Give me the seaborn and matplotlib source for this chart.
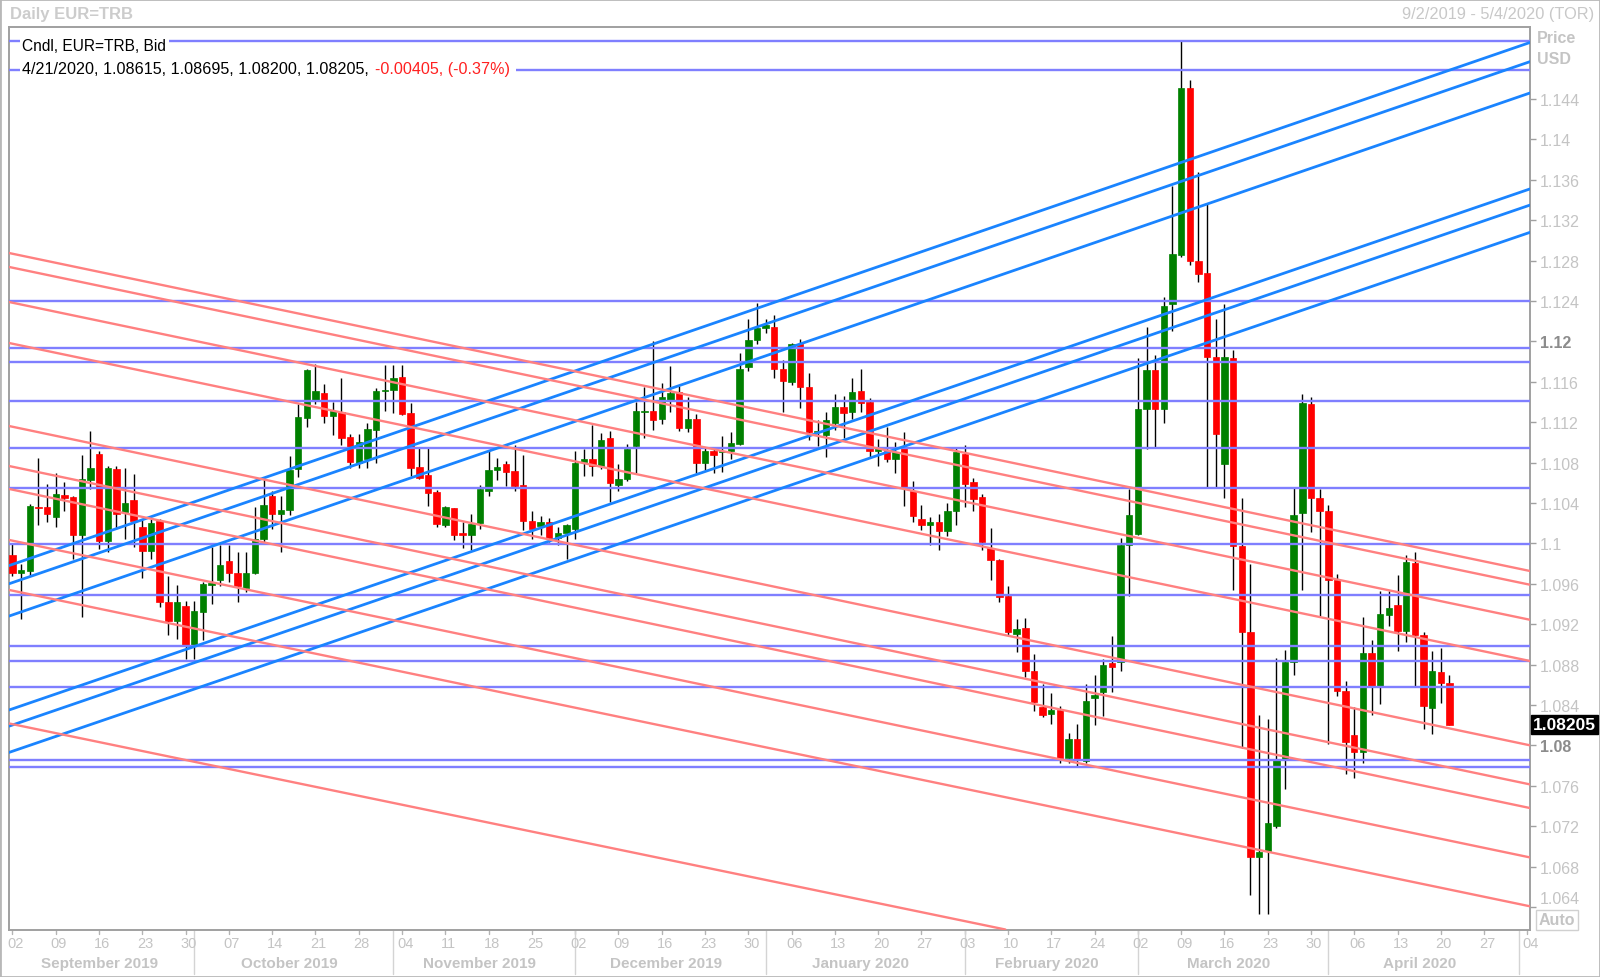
import numpy as np
import pandas as pd
import matplotlib
matplotlib.use("Agg")
import matplotlib.pyplot as plt
import matplotlib.transforms as mtransforms
from matplotlib.patches import Rectangle
import seaborn as sns

# Axe des jours ouvrés (2 sept. 2019 -> 4 mai 2020)
days = pd.bdate_range("2019-09-02", "2020-05-04")

# Bougies EUR=TRB
opens = [1.0989, 1.0971, 1.0973, 1.1036, 1.1036, 1.1026, 1.1048, 1.1046, 1.1008, 1.1063,
         1.1089, 1.1002, 1.1074, 1.1031, 1.1043, 1.1016, 1.0992, 1.1022, 1.0942, 1.0923,
         1.0938, 1.0899, 1.0932, 1.0959, 1.0964, 1.0983, 1.0971, 1.0956, 1.0971, 1.1004,
         1.1047, 1.1029, 1.1033, 1.1074, 1.1124, 1.1142, 1.1149, 1.1126, 1.1130, 1.1105,
         1.1080, 1.1084, 1.1112, 1.1151, 1.1152, 1.1165, 1.1129, 1.1076, 1.1068, 1.1051,
         1.1018, 1.1035, 1.1010, 1.1008, 1.1020, 1.1052, 1.1073, 1.1079, 1.1072, 1.1058,
         1.1022, 1.1017, 1.1021, 1.1005, 1.1010, 1.1014, 1.1081, 1.1084, 1.1077, 1.1104,
         1.1058, 1.1064, 1.1096, 1.1130, 1.1131, 1.1123, 1.1141, 1.1150, 1.1114, 1.1123,
         1.1080, 1.1091, 1.1090, 1.1091, 1.1098, 1.1175, 1.1201, 1.1213, 1.1214, 1.1173,
         1.1160, 1.1197, 1.1155, 1.1110, 1.1107, 1.1119, 1.1135, 1.1130, 1.1151, 1.1140,
         1.1091, 1.1091, 1.1084, 1.1094, 1.1052, 1.1024, 1.1018, 1.1021, 1.1012, 1.1032,
         1.1089, 1.1061, 1.1046, 1.0995, 1.0984, 1.0948, 1.0910, 1.0916, 1.0874, 1.0838,
         1.0831, 1.0835, 1.0788, 1.0806, 1.0785, 1.0847, 1.0853, 1.0882, 1.0883, 1.0998,
         1.1009, 1.1133, 1.1172, 1.1133, 1.1237, 1.1286, 1.1451, 1.1280, 1.1268, 1.1185,
         1.1079, 1.1184, 1.0997, 1.0912, 1.0689, 1.0695, 1.0720, 1.0787, 1.0883, 1.1030,
         1.1138, 1.1045, 1.1032, 1.0964, 1.0854, 1.0810, 1.0793, 1.0891, 1.0859, 1.0929,
         1.0939, 1.0913, 1.0981, 1.0909, 1.0837, 1.0873, 1.08615]
highs = [1.0999, 1.0980, 1.1039, 1.1085, 1.1059, 1.1070, 1.1061, 1.1047, 1.1088, 1.1111,
         1.1091, 1.1077, 1.1077, 1.1075, 1.1069, 1.1024, 1.1024, 1.1024, 1.0968, 1.0959,
         1.0943, 1.0943, 1.0962, 1.0996, 1.0998, 1.0998, 1.0991, 1.0991, 1.1036, 1.1064,
         1.1052, 1.1047, 1.1087, 1.1138, 1.1173, 1.1178, 1.1158, 1.1140, 1.1164, 1.1108,
         1.1108, 1.1119, 1.1154, 1.1177, 1.1177, 1.1177, 1.1139, 1.1094, 1.1094, 1.1053,
         1.1037, 1.1035, 1.1021, 1.1029, 1.1058, 1.1091, 1.1085, 1.1082, 1.1097, 1.1088,
         1.1032, 1.1027, 1.1025, 1.1016, 1.1019, 1.1091, 1.1093, 1.1117, 1.1109, 1.1111,
         1.1079, 1.1098, 1.1140, 1.1155, 1.1200, 1.1159, 1.1176, 1.1156, 1.1145, 1.1128,
         1.1094, 1.1094, 1.1106, 1.1110, 1.1189, 1.1222, 1.1238, 1.1222, 1.1226, 1.1182,
         1.1198, 1.1202, 1.1169, 1.1122, 1.1130, 1.1148, 1.1146, 1.1164, 1.1173, 1.1144,
         1.1103, 1.1115, 1.1100, 1.1110, 1.1062, 1.1038, 1.1026, 1.1029, 1.1040, 1.1095,
         1.1097, 1.1065, 1.1049, 1.1015, 1.0985, 1.0958, 1.0925, 1.0926, 1.0890, 1.0861,
         1.0852, 1.0839, 1.0812, 1.0821, 1.0861, 1.0870, 1.0886, 1.0908, 1.1005, 1.1054,
         1.1184, 1.1214, 1.1187, 1.1244, 1.1354, 1.1497, 1.1459, 1.1368, 1.1337, 1.1222,
         1.1237, 1.1191, 1.1045, 1.0980, 1.0830, 1.0826, 1.0887, 1.0894, 1.1056, 1.1148,
         1.1145, 1.1054, 1.1038, 1.0970, 1.0864, 1.0838, 1.0927, 1.0904, 1.0953, 1.0953,
         1.0969, 1.0989, 1.0991, 1.0912, 1.0893, 1.0896, 1.08695]
lows = [1.0968, 1.0925, 1.0968, 1.1018, 1.1021, 1.1016, 1.1032, 1.0985, 1.0927, 1.1054,
        1.0994, 1.0991, 1.1014, 1.1004, 1.0996, 1.0966, 1.0985, 1.0937, 1.0909, 1.0905,
        1.0886, 1.0886, 1.0904, 1.0940, 1.0958, 1.0962, 1.0942, 1.0952, 1.0970, 1.1001,
        1.1014, 1.0991, 1.1028, 1.1066, 1.1115, 1.1138, 1.1119, 1.1107, 1.1097, 1.1075,
        1.1075, 1.1075, 1.1080, 1.1131, 1.1129, 1.1127, 1.1067, 1.1064, 1.1037, 1.1016,
        1.1016, 1.1003, 1.0995, 1.0993, 1.1014, 1.1047, 1.1063, 1.1057, 1.1052, 1.1013,
        1.1004, 1.1008, 1.1001, 1.0998, 1.0985, 1.1004, 1.1067, 1.1067, 1.1074, 1.1041,
        1.1052, 1.1062, 1.1070, 1.1104, 1.1112, 1.1118, 1.1130, 1.1111, 1.1110, 1.1070,
        1.1073, 1.1070, 1.1071, 1.1084, 1.1097, 1.1171, 1.1197, 1.1208, 1.1164, 1.1130,
        1.1157, 1.1134, 1.1102, 1.1096, 1.1086, 1.1112, 1.1104, 1.1123, 1.1130, 1.1086,
        1.1077, 1.1081, 1.1070, 1.1037, 1.1021, 1.1013, 1.0998, 1.0993, 1.1007, 1.1018,
        1.1036, 1.1032, 1.0993, 1.0964, 1.0942, 1.0909, 1.0892, 1.0868, 1.0834, 1.0828,
        1.0821, 1.0783, 1.0783, 1.0779, 1.0783, 1.0820, 1.0829, 1.0853, 1.0874, 1.0948,
        1.1008, 1.1093, 1.1095, 1.1119, 1.1210, 1.1284, 1.1276, 1.1259, 1.1055, 1.1056,
        1.1045, 1.0954, 1.0797, 1.0652, 1.0633, 1.0633, 1.0718, 1.0757, 1.0870, 1.0954,
        1.1011, 1.0928, 1.0801, 1.0849, 1.0772, 1.0768, 1.0783, 1.0830, 1.0841, 1.0918,
        1.0893, 1.0902, 1.0859, 1.0816, 1.0811, 1.0842, 1.08200]
closes = [1.0971, 1.0974, 1.1037, 1.1035, 1.1029, 1.1049, 1.1045, 1.1008, 1.1064, 1.1075,
          1.1002, 1.1075, 1.1029, 1.1040, 1.1022, 1.0992, 1.1020, 1.0942, 1.0923, 1.0942,
          1.0899, 1.0933, 1.0960, 1.0961, 1.0979, 1.0971, 1.0958, 1.0971, 1.1004, 1.1038,
          1.1029, 1.1033, 1.1073, 1.1125, 1.1172, 1.1151, 1.1126, 1.1131, 1.1104, 1.1081,
          1.1100, 1.1113, 1.1151, 1.1152, 1.1164, 1.1128, 1.1075, 1.1065, 1.1050, 1.1019,
          1.1036, 1.1008, 1.1008, 1.1019, 1.1054, 1.1073, 1.1076, 1.1071, 1.1057, 1.1022,
          1.1014, 1.1021, 1.1005, 1.1010, 1.1018, 1.1080, 1.1084, 1.1077, 1.1102, 1.1060,
          1.1064, 1.1093, 1.1131, 1.1131, 1.1122, 1.1145, 1.1149, 1.1114, 1.1123, 1.1080,
          1.1091, 1.1088, 1.1091, 1.1099, 1.1173, 1.1201, 1.1213, 1.1216, 1.1173, 1.1161,
          1.1197, 1.1155, 1.1110, 1.1111, 1.1122, 1.1135, 1.1129, 1.1150, 1.1139, 1.1091,
          1.1094, 1.1084, 1.1090, 1.1056, 1.1027, 1.1018, 1.1021, 1.1012, 1.1032, 1.1090,
          1.1059, 1.1044, 1.1001, 1.0984, 1.0947, 1.0912, 1.0915, 1.0874, 1.0843, 1.0830,
          1.0835, 1.0788, 1.0806, 1.0787, 1.0844, 1.0850, 1.0880, 1.0878, 1.0998, 1.1028,
          1.1133, 1.1172, 1.1133, 1.1235, 1.1287, 1.1451, 1.1280, 1.1267, 1.1185, 1.1108,
          1.1185, 1.0997, 1.0912, 1.0689, 1.0694, 1.0723, 1.0786, 1.0883, 1.1028, 1.1139,
          1.1045, 1.1032, 1.0964, 1.0854, 1.0803, 1.0793, 1.0891, 1.0859, 1.0930, 1.0936,
          1.0913, 1.0982, 1.0909, 1.0839, 1.0874, 1.0862, 1.08205]

# Variation du dernier jour affichée dans la légende
last_change = "-0.00405, (-0.37%)"

# Niveaux horizontaux tracés sur le graphique
h_levels = [1.1497, 1.1469, 1.1240, 1.1193, 1.1180, 1.1141, 1.1094, 1.1055,
            1.0999, 1.0949, 1.0898, 1.0884, 1.0858, 1.0786, 1.0779]

# Lignes de tendance : prix au 2 sept. 2019 et au 4 mai 2020
line_dates = ["2019-09-02", "2020-05-04"]
up_start = [1.09792, 1.09612, 1.09292, 1.08362, 1.08202, 1.07942]
up_end = [1.14951, 1.14761, 1.14451, 1.13501, 1.13341, 1.13071]
down_start = [1.12868, 1.12730, 1.12383, 1.11977, 1.11155,
              1.10759, 1.10532, 1.10027, 1.09532, 1.08210]
down_end = [1.09732, 1.09596, 1.09249, 1.08841, 1.08006,
            1.07619, 1.07385, 1.06896, 1.06412, 1.05108]

y_ticks = [1.064, 1.068, 1.072, 1.076, 1.08, 1.084, 1.088, 1.092, 1.096, 1.1, 1.104,
           1.108, 1.112, 1.116, 1.12, 1.124, 1.128, 1.132, 1.136, 1.14, 1.144]

sns.set_theme(style="white")
plt.rcParams['font.family'] = ['Liberation Sans', 'DejaVu Sans']

W, H = 1600, 978
fig = plt.figure(figsize=(W / 100, H / 100), dpi=100)
ax = fig.add_axes([9 / W, 1 - 930.5 / H, 1521 / W, 902.5 / H])
ax.set_facecolor("white")

# Bougies
o, hi, lo, c = map(np.array, (opens, highs, lows, closes))
x = np.arange(len(o))
up = c >= o
col = np.where(up, "#008000", "#ff0000")
ax.vlines(x, lo, hi, color="black", lw=1, zorder=3)
ax.bar(x, np.maximum(np.abs(c - o), 0.00012), bottom=np.minimum(o, c), width=0.74,
       color=col, edgecolor=col, lw=0.5, zorder=4)

# Niveaux et tendances
for v in h_levels:
    ax.axhline(v, color="#7f7fff", lw=1.7, zorder=5)
x0, x1 = [days.get_loc(pd.Timestamp(d)) for d in line_dates]
for s, e in zip(up_start, up_end):
    ax.axline((x0, s), (x1, e), color="#1a84ff", lw=2.0, zorder=5)
for s, e in zip(down_start, down_end):
    ax.axline((x0, s), (x1, e), color="#ff8080", lw=1.7, zorder=5)

ax.set_xlim(-0.404, 175.3)
ax.set_ylim(1.06177, 1.15113)

# Axe des prix à droite
ax.yaxis.tick_right()
ax.set_yticks(y_ticks)
ax.set_yticklabels([f"{v:.3f}".rstrip("0") for v in y_ticks])
ax.tick_params(axis="y", direction="out", length=4, width=1, color="#a0a0a0",
               pad=3, labelsize=11.5, labelcolor="#c4c4c4")
for lab, v in zip(ax.get_yticklabels(), y_ticks):
    if abs(v - 1.12) < 1e-9 or abs(v - 1.08) < 1e-9:
        lab.set_fontweight("bold")
        lab.set_color("#8c8c8c")
    if abs(v - 1.064) < 1e-9:
        # remonté pour laisser la place au bouton "Auto"
        lab.set_transform(lab.get_transform() +
                          mtransforms.ScaledTranslation(0, 7 / 72, fig.dpi_scale_trans))
ax.set_xticks([])
for sp in ax.spines.values():
    sp.set_color("#a0a0a0")
    sp.set_linewidth(1.4)

# Axe des dates
tx = mtransforms.blended_transform_factory(ax.transData, fig.transFigure)
for i, d in enumerate(days):
    if d.weekday() == 0:
        ax.text(i + 0.35, 1 - 944 / H, f"{d.day:02d}", transform=tx, ha="center",
                va="center", fontsize=10.5, color="#c4c4c4", clip_on=False)
        ax.plot([i, i], [1 - 931 / H, 1 - 935 / H], transform=tx, color="#b4b4b4",
                lw=1, clip_on=False)
months = days.to_period("M")
for m in months.unique():
    idx = np.where(months == m)[0]
    if idx[0] > 0:
        ax.plot([idx[0], idx[0]], [1 - 931 / H, 1 - 975 / H], transform=tx,
                color="#d4d4d4", lw=1, clip_on=False)
    if len(idx) > 5:
        ax.text((idx[0] + idx[-1]) / 2, 1 - 964 / H, m.strftime("%B %Y"), transform=tx,
                ha="center", va="center", fontsize=11, fontweight="bold",
                color="#c4c4c4", clip_on=False)

# En-têtes
fig.text(10 / W, 1 - 15 / H, "Daily EUR=TRB", ha="left", va="center", fontsize=12,
         fontweight="bold", color="#cccccc")
fig.text(1594 / W, 1 - 15 / H, "9/2/2019 - 5/4/2020 (TOR)", ha="right", va="center",
         fontsize=11.8, color="#c8c8c8")
fig.text(1537 / W, 1 - 38.5 / H, "Price", ha="left", va="center", fontsize=11.5,
         fontweight="bold", color="#c4c4c4")
fig.text(1537 / W, 1 - 60 / H, "USD", ha="left", va="center", fontsize=11.5,
         fontweight="bold", color="#c4c4c4")
fig.text(1557 / W, 1 - 921 / H, "Auto", ha="center", va="center", fontsize=11.5,
         fontweight="bold", color="#c4c4c4",
         bbox=dict(boxstyle="square,pad=0.15", fc="white", ec="#d0d0d0", lw=1))

# Dernier cours
ty = mtransforms.blended_transform_factory(fig.transFigure, ax.transData)
fig.text(1564.5 / W, closes[-1], f"{closes[-1]:.5f}", transform=ty, ha="center",
         va="center", fontsize=12.5, fontweight="bold", color="white",
         bbox=dict(boxstyle="square,pad=0.12", fc="black", ec="black"))

# Légende
bg = dict(boxstyle="square,pad=0.15", fc="white", ec="none")
fig.text(22.5 / W, 1 - 46.7 / H, "Cndl, EUR=TRB, Bid", ha="left", va="center",
         fontsize=11.2, color="black", bbox=bg, zorder=10)
last = fig.text(22.5 / W, 1 - 69.3 / H,
                f"4/21/2020, {opens[-1]:.5f}, {highs[-1]:.5f}, {lows[-1]:.5f}, {closes[-1]:.5f},",
                ha="left", va="center", fontsize=11.6, color="black", bbox=bg, zorder=10)
fig.add_artist(plt.Annotation(last_change, xy=(1, 0.5), xycoords=last,
                              xytext=(4, 0), textcoords="offset points",
                              ha="left", va="center", fontsize=11.6, color="#ff2020",
                              bbox=dict(boxstyle="square,pad=0.4", fc="white", ec="none"),
                              zorder=9))

fig.patches.append(Rectangle((0, 0), 1, 1, transform=fig.transFigure, fill=False,
                             ec="#b8b8b8", lw=2))

fig.savefig("out.png", dpi=100)
